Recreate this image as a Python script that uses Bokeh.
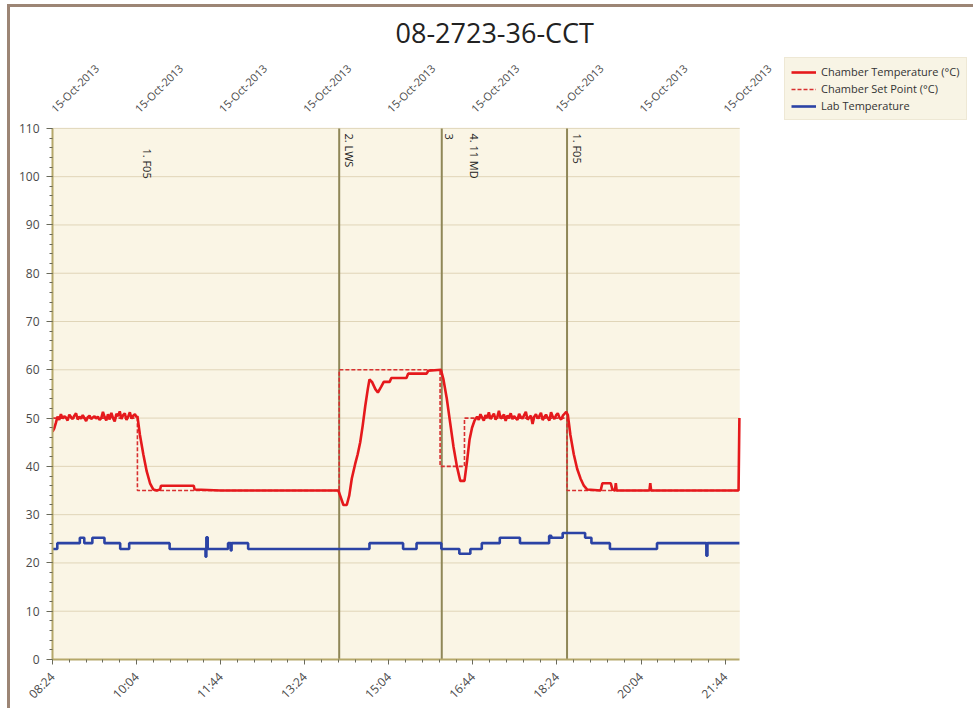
import math
from bokeh.plotting import figure
from bokeh.models import (FixedTicker, SingleIntervalTicker, BoxAnnotation,
                          Legend, LegendItem, Range1d, ColumnDataSource)
from bokeh.core.properties import value
from bokeh.embed import file_html
from bokeh.resources import INLINE

# ---------------- data ----------------
title_text = "08-2723-36-CCT"
date_label = "15-Oct-2013"
time_labels = ["08:24", "10:04", "11:44", "13:24", "15:04", "16:44", "18:24", "20:04", "21:44"]
x_end_min = 817.4        # minutes after 08:24 at the right edge of the data area
y_max = 110

# Chamber temperature: minutes after 08:24 and value
chamber_t = [0, 2, 4, 6, 8, 10, 12, 14, 16, 18, 20, 22, 24, 26, 28, 30, 32, 34, 36, 38,
             40, 42, 44, 46, 48, 50, 52, 54, 56, 58, 60, 62, 64, 66, 68, 70, 72, 74, 76, 78,
             80, 82, 84, 86, 88, 90, 92, 94, 96, 98, 100,
             101, 104, 108, 112, 116, 120, 124, 128, 129, 150, 168, 169, 200, 250, 300, 340,
             343, 346, 350, 353, 356, 360, 363, 366, 369, 372, 375, 377, 380, 384, 387, 391,
             394, 401, 403, 421, 423, 445, 447, 462, 465, 469, 473, 477, 481, 485, 490, 493,
             496, 499, 502, 505,
             507, 509, 511, 513, 515, 517, 519, 521, 523, 525, 527, 529, 531, 533, 535, 537,
             539, 541, 543, 545, 547, 549, 551, 553, 555, 557, 559, 561, 563, 565, 567, 569,
             571, 573, 575, 577, 579, 581, 583, 585, 587, 589, 591, 593, 595, 597, 599, 601,
             603, 605, 607, 609, 611,
             613, 616, 620, 624, 628, 632, 636, 652, 654, 664, 666, 669, 670, 671, 710, 711,
             712, 815, 816, 817]
chamber_v = [47.2, 47.8, 49.0, 50.3, 49.6, 50.8, 49.9, 50.4, 50.1, 49.5,
             50.7, 50.2, 49.8, 50.5, 51.0, 49.7, 50.3, 49.9, 50.6, 50.0,
             49.4, 50.2, 50.5, 49.8, 50.1, 50.4, 49.9, 50.3, 49.6, 50.0,
             51.3, 50.2, 49.5, 50.8, 49.7, 51.1, 50.0, 49.3, 50.9, 50.4,
             51.4, 49.8, 50.6, 51.0, 49.6, 50.3, 51.2, 49.9, 50.5, 50.8, 50.2,
             50.4, 46.5, 42.5, 39.0, 36.5, 35.2, 35.0, 35.2, 36.0, 36.0, 36.0, 35.2, 35.0, 35.0,
             35.0, 35.0,
             33.5, 32.0, 32.0, 34.0, 37.5, 40.5, 42.5, 45.0, 48.5, 52.5, 56.0, 58.0, 57.5, 56.0,
             55.3, 56.5, 57.5, 57.5, 58.3, 58.3, 59.2, 59.2, 59.8, 60.0, 58.0, 54.0, 49.0, 44.0,
             40.0, 37.0, 37.0, 41.0, 45.5, 48.0, 49.5, 50.3,
             49.6, 50.8, 50.1, 49.5, 50.6, 50.0, 51.2, 49.8, 50.4, 50.9,
             49.7, 50.2, 51.5, 49.9, 50.3, 50.7, 49.4, 50.5, 50.1, 51.0,
             49.8, 50.4, 50.0, 49.6, 50.9, 50.2, 49.9, 50.6, 51.3, 49.7,
             50.1, 50.5, 48.8, 50.3, 50.8, 49.9, 50.4, 51.1, 49.6, 50.2,
             50.7, 50.0, 49.5, 51.2, 50.3, 49.8, 50.6, 51.0, 50.1, 49.7,
             50.5, 50.9, 51.3,
             50.6, 46.5, 42.5, 39.5, 37.5, 36.0, 35.2, 35.0, 36.5, 36.5, 35.2, 35.0, 36.5, 35.0,
             35.0, 36.5, 35.0, 35.0, 35.0, 50.0]

# Chamber set point
setpoint_t = [0, 101, 101, 341, 341, 461, 461, 490, 490, 612, 612, 817]
setpoint_v = [50, 50, 35, 35, 60, 60, 40, 40, 50, 50, 35, 35]

# Lab temperature (step series)
lab_t = [0, 5.7, 32.5, 37.8, 47.4, 61.8, 80.5, 91.2, 139.3, 182, 183, 184.6, 208.8, 212,
         213, 232.7, 377, 417, 433, 462.5, 483.9, 497, 510.6, 532, 556, 590.7, 593.4, 606.8,
         633.5, 641, 663, 719, 777.7, 779, 785.7, 817]
lab_v = [22.9, 24.1, 25.2, 24.1, 25.2, 24.1, 22.9, 24.1, 22.9, 21.3, 25.3, 22.9, 24.1, 22.6,
         24.1, 22.9, 24.1, 22.9, 24.1, 22.9, 21.9, 22.9, 24.1, 25.2, 24.1, 25.6, 25.2, 26.2,
         25.2, 24.1, 22.9, 24.1, 21.5, 24.1, 24.1, 24.1]

# Events
event_t = [101, 341, 463, 490, 612]
event_label = ["1. F05", "2. LWS", "3", "4. 11 MD", "1. F05"]
event_has_line = [False, True, True, False, True]

legend_labels = ["Chamber Temperature (\u00b0C)", "Chamber Set Point (\u00b0C)", "Lab Temperature"]


def to_min(s):
    h, m = s.split(":")
    return int(h) * 60 + int(m) - (8 * 60 + 24)


tick_pos = [to_min(s) for s in time_labels]
minor_pos = []
for a, b in zip(tick_pos[:-1], tick_pos[1:]):
    step = (b - a) / 5
    minor_pos += [a + step * k for k in range(1, 5)]
y_ticks = list(range(0, y_max + 1, 10))

# ---------------- layout (screen pixels) ----------------
FONT = "Open Sans"
RED = "#e5191c"
BLUE = "#2b43a5"
AXIS_COL = "#b5a86a"
LABEL_COL = "#4a4a4a"
CREAM = "#faf5e5"
BORDER = "#9c8575"
BW = 3                          # border width

OX, OY = 10, 7                  # canvas origin on screen (after border)
SCREEN_W, SCREEN_H = 973, 708
W, H = SCREEN_W - OX + BW, SCREEN_H - OY + BW   # element size includes the border
DATA_LEFT, DATA_RIGHT, DATA_TOP, DATA_BOTTOM = 52, 737, 128, 660   # screen px
FRAME_TOP = 52
x_frame_end = x_end_min * (SCREEN_W - DATA_LEFT) / (DATA_RIGHT - DATA_LEFT)
y_frame_top = y_max * (DATA_BOTTOM - FRAME_TOP) / (DATA_BOTTOM - DATA_TOP)

p = figure(width=W, height=H, output_backend="svg", toolbar_location=None,
           x_range=Range1d(0, x_frame_end), y_range=Range1d(0, y_frame_top))
p.styles = {"margin-left": f"{OX - BW}px", "margin-top": f"{OY - BW}px",
            "border-left": f"{BW}px solid {BORDER}", "border-top": f"{BW}px solid {BORDER}"}
p.min_border_left = DATA_LEFT - OX
p.min_border_right = 0
p.min_border_top = FRAME_TOP - OY
p.min_border_bottom = SCREEN_H - DATA_BOTTOM
p.background_fill_color = "white"
p.border_fill_color = "white"
p.outline_line_color = None
p.xgrid.visible = False
p.ygrid.visible = False

p.title.text = title_text
p.title.text_font = FONT
p.title.text_font_size = "27px"
p.title.text_font_style = "normal"
p.title.text_color = "#222222"
p.title.align = "left"
p.title.offset = 343
p.title.standoff = 4

# cream data area
p.add_layout(BoxAnnotation(left=0, right=x_end_min, bottom=0, top=y_max,
                           fill_color=CREAM, fill_alpha=1, line_color=None, level="underlay"))
# horizontal grid lines, limited to the data area
p.segment(x0=[0] * len(y_ticks[1:]), x1=[x_end_min] * len(y_ticks[1:]),
          y0=y_ticks[1:], y1=y_ticks[1:], line_color="#e0d5b8", line_width=1)

# y axis
yax = p.yaxis[0]
yax.ticker = SingleIntervalTicker(interval=10, num_minor_ticks=5)
yax.bounds = (0, y_max)
yax.axis_line_color = AXIS_COL
yax.axis_line_width = 2
yax.major_tick_line_color = "#6a6a5a"
yax.minor_tick_line_color = "#6a6a5a"
yax.major_tick_out = 6
yax.major_tick_in = 0
yax.minor_tick_out = 3
yax.minor_tick_in = 0
yax.major_label_text_font = FONT
yax.major_label_text_font_size = "12px"
yax.major_label_text_color = LABEL_COL
yax.major_label_standoff = 7

# bottom x axis
xax = p.xaxis[0]
xax.ticker = FixedTicker(ticks=tick_pos, minor_ticks=minor_pos)
xax.bounds = (0, x_end_min)
xax.major_label_overrides = {t: s for t, s in zip(tick_pos, time_labels)}
xax.major_label_orientation = math.pi / 4
xax.axis_line_color = AXIS_COL
xax.axis_line_width = 2
xax.major_tick_line_color = "#6a6a5a"
xax.minor_tick_line_color = "#6a6a5a"
xax.major_tick_out = 5
xax.major_tick_in = 0
xax.minor_tick_out = 3
xax.minor_tick_in = 0
xax.major_label_text_font = FONT
xax.major_label_text_font_size = "12px"
xax.major_label_text_color = LABEL_COL
xax.major_label_standoff = 10

# top date labels (rotated, above the data area)
p.text(x=tick_pos, y=[y_max] * len(tick_pos), text=[date_label] * len(tick_pos),
       angle=math.pi / 4, text_align="left", text_baseline="middle",
       x_offset=0, y_offset=-18, text_font=value(FONT), text_font_size="11px",
       text_color=LABEL_COL)

# event lines
line_t = [t for t, has in zip(event_t, event_has_line) if has]
p.segment(x0=line_t, x1=line_t, y0=[0] * len(line_t), y1=[y_max] * len(line_t),
          line_color="#8f8758", line_width=2)

# data
r_set = p.line(setpoint_t, setpoint_v, line_color="#d83030", line_width=1.6, line_dash="4 2")
r_ch = p.line(chamber_t, chamber_v, line_color=RED, line_width=2.6)
r_lab = p.step(lab_t, lab_v, mode="after", line_color=BLUE, line_width=2.6)

# event labels
ev_src = ColumnDataSource(dict(x=event_t, y=[y_max] * len(event_t), text=event_label,
                               yo=[20 if i == 0 else 5 for i in range(len(event_t))]))
p.text(x="x", y="y", text="text", source=ev_src, angle=-math.pi / 2,
       text_align="left", text_baseline="bottom", x_offset=3, y_offset="yo",
       text_font=value(FONT), text_font_size="11px", text_color="#222222")

# legend
legend = Legend(items=[LegendItem(label=legend_labels[0], renderers=[r_ch]),
                       LegendItem(label=legend_labels[1], renderers=[r_set]),
                       LegendItem(label=legend_labels[2], renderers=[r_lab])],
                location=(784 - DATA_LEFT, DATA_BOTTOM - 121))
legend.label_text_font = FONT
legend.label_text_font_size = "11px"
legend.label_text_color = "#333333"
legend.glyph_width = 25
legend.glyph_height = 12
legend.label_height = 15
legend.spacing = 2
legend.padding = 6
legend.margin = 0
legend.background_fill_color = "#f8f3e4"
legend.border_line_color = "#e3dcc6"
legend.label_standoff = 5
p.add_layout(legend, "center")

open("out.html", "w").write(file_html(p, INLINE))
